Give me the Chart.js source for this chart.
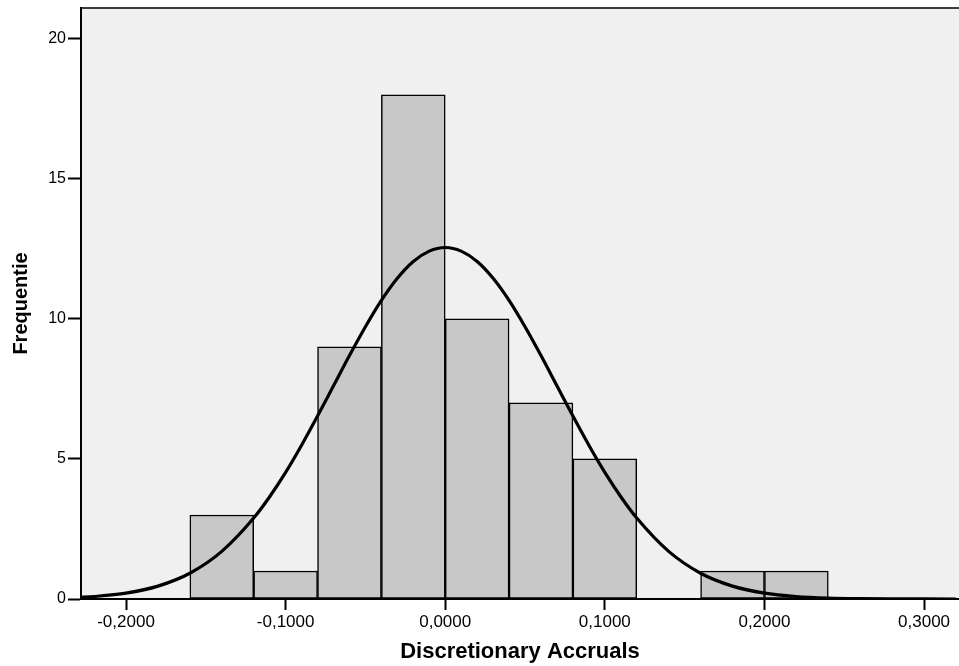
<!DOCTYPE html>
<html>
<head>
<meta charset="utf-8">
<script src="https://cdn.jsdelivr.net/npm/chart.js@4"></script>
<style>
  html, body { margin: 0; padding: 0; background: #ffffff; }
  #wrap { width: 959px; height: 666px; }
</style>
</head>
<body>
<div id="wrap"><canvas id="c" width="959" height="666"></canvas></div>
<script>
// Histogram bins (bin width 0.04)
const binCenters = [-0.14, -0.10, -0.06, -0.02, 0.02, 0.06, 0.10, 0.14, 0.18, 0.22];
const binCounts  = [3, 1, 9, 18, 10, 7, 5, 0, 1, 1];

// Fitted normal curve
const curveX = [-0.23, -0.22, -0.20, -0.18, -0.16, -0.14, -0.12, -0.11, -0.10, -0.09, -0.08, -0.07, -0.06, -0.05, -0.04, -0.03, -0.02, -0.01, 0.00,
                0.01, 0.02, 0.03, 0.04, 0.05, 0.06, 0.07, 0.08, 0.09, 0.10, 0.11, 0.12, 0.14, 0.16, 0.18, 0.20, 0.22, 0.24, 0.26, 0.28, 0.30, 0.32];
const curveY = [0.057, 0.090, 0.21, 0.46, 0.92, 1.70, 2.89, 3.65, 4.52, 5.49, 6.53, 7.61, 8.69, 9.72, 10.66, 11.45, 12.05, 12.42, 12.55,
                12.42, 12.05, 11.45, 10.66, 9.72, 8.69, 7.61, 6.53, 5.49, 4.52, 3.65, 2.89, 1.70, 0.92, 0.46, 0.21, 0.090, 0.035, 0.013, 0.004, 0.001, 0.0];

// Axes
const xTicks = [-0.2, -0.1, 0.0, 0.1, 0.2, 0.3];
const xTickLabels = ['-0,2000', '-0,1000', '0,0000', '0,1000', '0,2000', '0,3000'];
const yTicks = [0, 5, 10, 15, 20];
const xRange = [-0.2282, 0.3219];
const yRange = [0, 21.1];
const xTitle = 'Discretionary Accruals';
const yTitle = 'Frequentie';

const FONT = "'Liberation Sans', Arial, Helvetica, sans-serif";

const plotBg = {
  id: 'plotBg',
  beforeDraw(chart) {
    const { ctx, chartArea: a } = chart;
    ctx.save();
    ctx.fillStyle = '#f0f0f0';
    ctx.fillRect(a.left, a.top, a.right - a.left, a.bottom - a.top);
    ctx.restore();
  },
  afterDraw(chart) {
    const { ctx, chartArea: a } = chart;
    ctx.save();
    ctx.strokeStyle = '#000';
    ctx.lineWidth = 1.5;
    ctx.beginPath();
    ctx.moveTo(a.left, a.top);
    ctx.lineTo(a.right, a.top);
    ctx.stroke();
    ctx.restore();
  }
};

new Chart(document.getElementById('c'), {
  type: 'bar',
  data: {
    datasets: [
      {
        type: 'line',
        data: curveX.map((x, i) => ({ x: x, y: curveY[i] })),
        borderColor: '#000000',
        borderWidth: 3.2,
        pointRadius: 0,
        fill: false,
        cubicInterpolationMode: 'monotone',
        order: 0
      },
      {
        type: 'bar',
        data: binCenters.map((x, i) => ({ x: x, y: binCounts[i] })),
        backgroundColor: '#c8c8c8',
        borderColor: '#000000',
        borderWidth: 1.5,
        borderSkipped: false,
        barPercentage: 1.0,
        categoryPercentage: 1.0,
        order: 1
      }
    ]
  },
  options: {
    responsive: false,
    animation: false,
    devicePixelRatio: 1,
    layout: { padding: { top: 8, right: 0, left: 0, bottom: 0 } },
    plugins: {
      legend: { display: false },
      tooltip: { enabled: false }
    },
    scales: {
      x: {
        type: 'linear',
        min: xRange[0],
        max: xRange[1],
        offset: false,
        afterBuildTicks: (axis) => { axis.ticks = xTicks.map(v => ({ value: v })); },
        afterFit: (axis) => {
          axis.height = 67;
          axis.paddingLeft = 0; axis.paddingRight = 0; axis.paddingTop = 0; axis.paddingBottom = 0;
        },
        ticks: {
          autoSkip: false,
          maxRotation: 0,
          color: '#000',
          padding: 2,
          font: { family: FONT, size: 17 },
          callback: (v) => {
            const i = xTicks.findIndex(t => Math.abs(t - v) < 1e-9);
            return i >= 0 ? xTickLabels[i] : '';
          }
        },
        grid: {
          display: true,
          drawOnChartArea: false,
          drawTicks: true,
          tickLength: 11,
          tickWidth: 2,
          tickColor: '#000',
          color: '#000',
          offset: false
        },
        border: { display: true, color: '#000', width: 2 },
        title: {
          display: true,
          text: xTitle,
          color: '#000',
          font: { family: FONT, size: 22, weight: 'bold' },
          padding: { top: 0, bottom: 1 }
        }
      },
      y: {
        type: 'linear',
        min: yRange[0],
        max: yRange[1],
        afterBuildTicks: (axis) => { axis.ticks = yTicks.map(v => ({ value: v })); },
        afterFit: (axis) => {
          axis.width = 81;
          axis.paddingLeft = 0; axis.paddingRight = 0; axis.paddingTop = 0; axis.paddingBottom = 0;
        },
        ticks: {
          color: '#000',
          padding: 2,
          font: { family: FONT, size: 16 },
          callback: (v) => String(v)
        },
        grid: {
          display: true,
          drawOnChartArea: false,
          drawTicks: true,
          tickLength: 13,
          tickWidth: 2,
          tickColor: '#000',
          color: '#000'
        },
        border: { display: true, color: '#000', width: 2 },
        title: {
          display: true,
          text: yTitle,
          color: '#000',
          font: { family: FONT, size: 20, weight: 'bold' },
          padding: { top: 9, bottom: 0 }
        }
      }
    }
  },
  plugins: [plotBg]
});
</script>
</body>
</html>
